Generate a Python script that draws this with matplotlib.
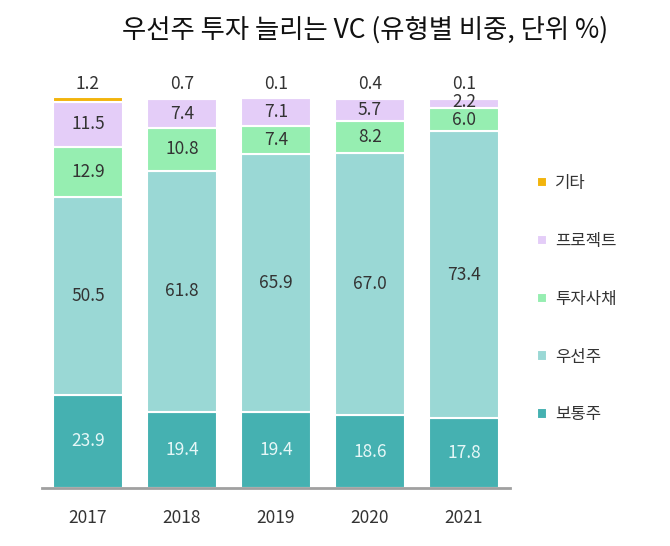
import numpy as np
import matplotlib
matplotlib.use("Agg")
import matplotlib.pyplot as plt

plt.rcParams['font.family'] = ['Noto Sans CJK KR', 'DejaVu Sans']

years = ["2017", "2018", "2019", "2020", "2021"]
common = [23.9, 19.4, 19.4, 18.6, 17.8]      # 보통주
preferred = [50.5, 61.8, 65.9, 67.0, 73.4]   # 우선주
bonds = [12.9, 10.8, 7.4, 8.2, 6.0]          # 투자사채
project = [11.5, 7.4, 7.1, 5.7, 2.2]         # 프로젝트
other = [1.2, 0.7, 0.1, 0.4, 0.1]            # 기타

series = [
    ("보통주", common, "#45b1b1", "#e6f7f7"),
    ("우선주", preferred, "#9ad8d5", "#333333"),
    ("투자사채", bonds, "#96eeb1", "#333333"),
    ("프로젝트", project, "#e4cdf8", "#333333"),
    ("기타", other, "#f2b40c", "#333333"),
]

fig = plt.figure(figsize=(6.7, 5.46), dpi=100)
ax = fig.add_axes([42 / 670, 58 / 546, 468 / 670, 391 / 546])

x = np.arange(len(years))
bottom = np.zeros(len(years))
handles = []
for name, vals, color, tcolor in series:
    vals = np.array(vals)
    bars = ax.bar(x, vals, 0.745, bottom=bottom, color=color,
                  edgecolor="white", linewidth=1.5, label=name)
    handles.append(bars)
    for xi, b, v in zip(x, bottom, vals):
        if name == "기타":
            ax.text(xi, 100 + 3.2, f"{v:.1f}", ha="center", va="center",
                    fontsize=12.5, color=tcolor)
        else:
            # small segments at the top of the last bar: nudge apart a little
            y = b + v / 2
            if v < 3:
                y += 0.4
            ax.text(xi, y, f"{v:.1f}", ha="center", va="center",
                    fontsize=12.5, color=tcolor)
    bottom += vals

ax.set_xlim(-0.489, 4.489)
ax.set_ylim(0, 100)
ax.set_xticks(x)
ax.set_xticklabels(years, fontsize=12.5, color="#333333")
ax.tick_params(axis="x", length=0, pad=15)
ax.set_yticks([])
for s in ["left", "right", "top"]:
    ax.spines[s].set_visible(False)
ax.spines["bottom"].set_color("#a0a0a0")
ax.spines["bottom"].set_linewidth(2)

leg = fig.legend(handles=handles[::-1], loc="upper left",
                 bbox_to_anchor=(522 / 670, 1 - 160 / 546),
                 frameon=False, fontsize=12, handlelength=0.6,
                 handleheight=0.6, handletextpad=0.5, labelspacing=2.45)
for t in leg.get_texts():
    t.set_color("#333333")

fig.text(365 / 670, 1 - 30 / 546, "우선주 투자 늘리는 VC (유형별 비중, 단위 %)",
         ha="center", va="center", fontsize=19, color="#111111")

fig.savefig("out.png", dpi=100)
